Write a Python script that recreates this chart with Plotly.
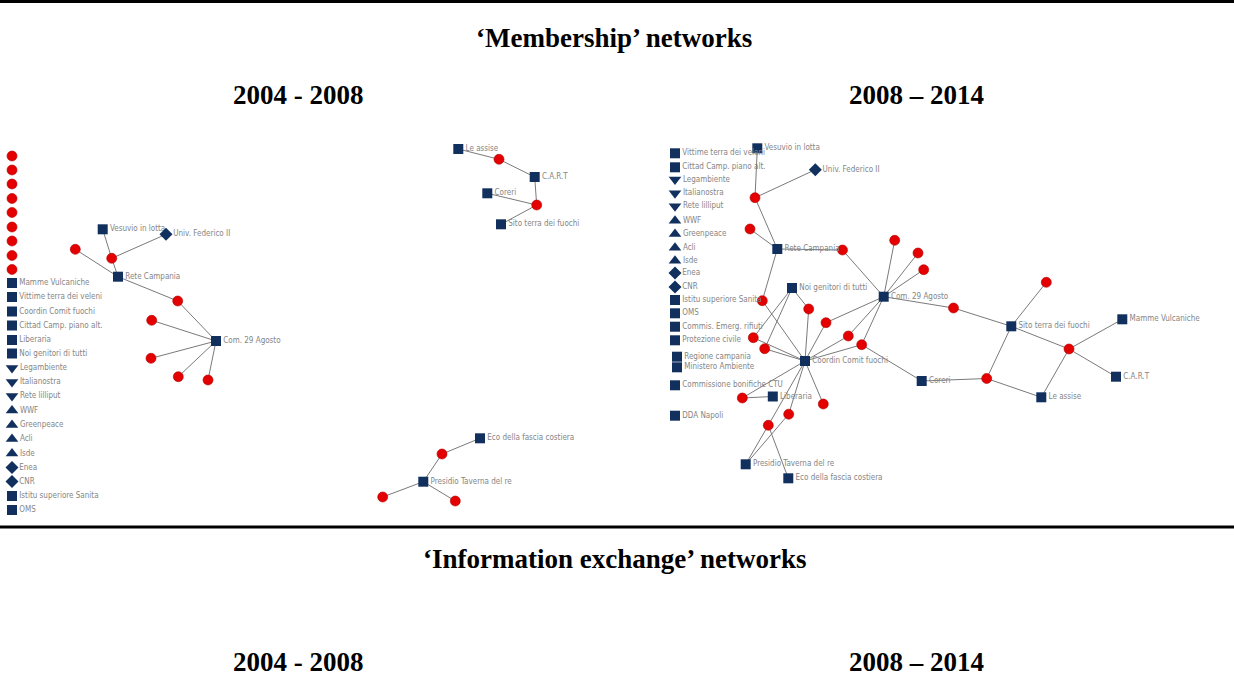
import plotly.graph_objects as go

# ---------------- DATA ----------------
# Panel 1: 'Membership' networks 2004-2008  (node name, x, y, kind)
p1_names = ["i1", "i2", "i3", "i4", "i5", "i6", "i7", "i8", "i9",
            "Mamme Vulcaniche", "Vittime terra dei veleni", "Coordin Comit fuochi",
            "Cittad Camp. piano alt.", "Liberaria", "Noi genitori di tutti",
            "Legambiente", "Italianostra", "Rete lilliput", "WWF", "Greenpeace",
            "Acli", "Isde", "Enea", "CNR", "Istitu superiore Sanita", "OMS",
            "Vesuvio in lotta", "Univ. Federico II", "e1", "e2", "Rete Campania",
            "e3", "e4", "Com. 29 Agosto", "e5", "e6", "e7",
            "Le assise", "e8", "C.A.R.T", "Coreri", "e9", "Sito terra dei fuochi",
            "Eco della fascia costiera", "e10", "Presidio Taverna del re", "e11", "e12"]
p1_x = [12, 12, 12, 12, 12, 12, 12, 12, 12,
        12, 12, 12, 12, 12, 12, 12, 12, 12, 12, 12, 12, 12, 12, 12, 12, 12,
        102.7, 166, 111.7, 75.3, 118, 177.7, 151.7, 216, 151, 178.3, 208,
        458.3, 499, 534.7, 487.3, 536.7, 501,
        480, 442, 423.3, 382.7, 455.3]
p1_y = [156, 170, 184, 198.5, 212.5, 227, 241, 255.5, 269.5,
        283, 297, 311.5, 325.5, 340, 353.5, 368, 382, 396, 410.5, 425, 439, 453.5,
        467.5, 481.5, 496, 510,
        229.3, 234.3, 258.3, 249.3, 276.7, 301, 320.3, 341, 358.3, 376.7, 380,
        149, 159.3, 177, 193.3, 205, 224.3,
        438.3, 454, 481.7, 497, 501]
p1_kind = ["ev"] * 9 + ["sq", "sq", "sq", "sq", "sq", "sq", "td", "td", "td",
                        "tu", "tu", "tu", "tu", "di", "di", "sq", "sq",
                        "sq", "di", "ev", "ev", "sq", "ev", "ev", "sq", "ev", "ev", "ev",
                        "sq", "ev", "sq", "sq", "ev", "sq",
                        "sq", "ev", "sq", "ev", "ev"]
p1_edges = [("Vesuvio in lotta", "e1"), ("e1", "Univ. Federico II"), ("e1", "Rete Campania"),
            ("e2", "Rete Campania"), ("Rete Campania", "e3"), ("e3", "Com. 29 Agosto"),
            ("e4", "Com. 29 Agosto"), ("e5", "Com. 29 Agosto"), ("e6", "Com. 29 Agosto"),
            ("e7", "Com. 29 Agosto"), ("Le assise", "e8"), ("e8", "C.A.R.T"),
            ("C.A.R.T", "e9"), ("Coreri", "e9"), ("e9", "Sito terra dei fuochi"),
            ("Eco della fascia costiera", "e10"), ("e10", "Presidio Taverna del re"),
            ("Presidio Taverna del re", "e11"), ("Presidio Taverna del re", "e12")]

# Panel 2: 'Membership' networks 2008-2014
p2_names = ["Vittime terra dei veleni", "Cittad Camp. piano alt.", "Legambiente",
            "Italianostra", "Rete lilliput", "WWF", "Greenpeace", "Acli", "Isde",
            "Enea", "CNR", "Istitu superiore Sanita", "OMS", "Commis. Emerg. rifiuti",
            "Protezione civile", "Regione campania", "Ministero Ambiente",
            "Commissione bonifiche CTU", "DDA Napoli",
            "Vesuvio in lotta", "Univ. Federico II", "b1", "b2", "Rete Campania",
            "b3", "b4", "b5", "b6", "Com. 29 Agosto", "Noi genitori di tutti",
            "b7", "b8", "b9", "b10", "b11", "b12", "b13", "b14",
            "Coordin Comit fuochi", "Coreri", "b15", "Liberaria", "b16", "b17",
            "b18", "b19", "Presidio Taverna del re", "Eco della fascia costiera",
            "b20", "Sito terra dei fuochi", "Mamme Vulcaniche", "b21", "C.A.R.T", "Le assise"]
p2_x = [675, 675, 675, 675, 675, 675, 675, 675, 675, 675, 675, 675, 675, 675, 675,
        677, 677, 675, 675,
        757.3, 815.3, 755, 750, 777.3, 842.5, 894.7, 918, 923.7, 883.7, 792,
        762.3, 808.7, 826, 953.5, 753.3, 764.7, 848.3, 861.7,
        805, 921.7, 986.7, 772.8, 742.3, 823.3, 788.7, 768.3, 745.7, 788.3,
        1046.3, 1011.3, 1122.3, 1069, 1116, 1041.3]
p2_y = [153.3, 167.3, 179.5, 193.3, 206.3, 220.7, 234, 247.7, 260.7, 273, 287,
        300, 313.3, 326.7, 340.3, 356.7, 367.3, 385.3, 415.7,
        148.3, 169.7, 197.7, 229, 249, 250, 240.3, 253, 269.7, 296.7, 288,
        300.7, 309, 322.7, 308, 337.7, 348.7, 336, 344.7,
        361, 381, 378.5, 396.5, 398, 404, 414.2, 425.3, 464.3, 478.3,
        282.3, 326.3, 319.3, 349, 376.7, 397.3]
p2_kind = ["sq", "sq", "td", "td", "td", "tu", "tu", "tu", "tu", "di", "di",
           "sq", "sq", "sq", "sq", "sq", "sq", "sq", "sq",
           "sq", "di", "ev", "ev", "sq", "ev", "ev", "ev", "ev", "sq", "sq",
           "ev", "ev", "ev", "ev", "ev", "ev", "ev", "ev",
           "sq", "sq", "ev", "sq", "ev", "ev", "ev", "ev", "sq", "sq",
           "ev", "sq", "sq", "ev", "sq", "sq"]
p2_edges = [("Vesuvio in lotta", "b1"), ("b1", "Univ. Federico II"), ("b1", "Rete Campania"),
            ("b2", "Rete Campania"), ("Rete Campania", "b3"), ("b3", "Com. 29 Agosto"),
            ("Rete Campania", "b7"), ("b7", "Coordin Comit fuochi"),
            ("Noi genitori di tutti", "b11"), ("Noi genitori di tutti", "b12"),
            ("Noi genitori di tutti", "b8"), ("b8", "Coordin Comit fuochi"),
            ("b11", "Coordin Comit fuochi"), ("b12", "Coordin Comit fuochi"),
            ("b9", "Coordin Comit fuochi"), ("b9", "Com. 29 Agosto"),
            ("b13", "Com. 29 Agosto"), ("b13", "Coordin Comit fuochi"),
            ("b14", "Com. 29 Agosto"), ("b14", "Coordin Comit fuochi"), ("b14", "Coreri"),
            ("b4", "Com. 29 Agosto"), ("b5", "Com. 29 Agosto"), ("b6", "Com. 29 Agosto"),
            ("Com. 29 Agosto", "b10"), ("b10", "Sito terra dei fuochi"),
            ("Sito terra dei fuochi", "b20"), ("Sito terra dei fuochi", "b15"),
            ("Coreri", "b15"), ("b15", "Le assise"), ("Sito terra dei fuochi", "b21"),
            ("b21", "Mamme Vulcaniche"), ("b21", "C.A.R.T"), ("b21", "Le assise"),
            ("Coordin Comit fuochi", "b16"), ("b16", "Liberaria"),
            ("Coordin Comit fuochi", "b17"), ("Coordin Comit fuochi", "b18"),
            ("Coordin Comit fuochi", "b19"), ("b18", "Presidio Taverna del re"),
            ("b19", "Presidio Taverna del re"), ("b19", "Eco della fascia costiera")]

titles = ["\u2018Membership\u2019 networks", "\u2018Information exchange\u2019 networks"]
periods = ["2004 - 2008", "2008 \u2013 2014"]

# ---------------- STYLE ----------------
NAVY = "#12305e"
RED = "#e40000"
EDGE = "#7a7a7a"
LABEL = "#858585"
SYMBOL = {"sq": "square", "tu": "triangle-up", "td": "triangle-down", "di": "diamond"}
LABEL_FONT = dict(family="Liberation Sans Narrow, DejaVu Sans Condensed, Arial Narrow, sans-serif",
                  size=8, color=LABEL)
TITLE_FONT = dict(family="Liberation Serif, DejaVu Serif, serif", size=27, color="black")

fig = go.Figure()


def add_network(names, xs, ys, kinds, edges):
    pos = {n: (x, y) for n, x, y in zip(names, xs, ys)}
    ex, ey = [], []
    for a, b in edges:
        ex += [pos[a][0], pos[b][0], None]
        ey += [pos[a][1], pos[b][1], None]
    fig.add_trace(go.Scatter(x=ex, y=ey, mode="lines", hoverinfo="skip",
                             line=dict(color=EDGE, width=1), showlegend=False))
    evx = [x for x, k in zip(xs, kinds) if k == "ev"]
    evy = [y for y, k in zip(ys, kinds) if k == "ev"]
    fig.add_trace(go.Scatter(x=evx, y=evy, mode="markers", showlegend=False,
                             marker=dict(symbol="circle", size=10, color=RED,
                                         line=dict(color="#b00000", width=0.6))))
    for k, sym in SYMBOL.items():
        sel = [i for i, kk in enumerate(kinds) if kk == k]
        if not sel:
            continue
        size = 10 if k == "sq" else (11 if k in ("tu", "td") else 10)
        fig.add_trace(go.Scatter(
            x=[xs[i] for i in sel], y=[ys[i] for i in sel],
            text=[names[i] for i in sel], mode="markers+text",
            textposition="middle right", textfont=LABEL_FONT, showlegend=False,
            marker=dict(symbol=sym, size=size, color=NAVY, line=dict(width=0))))


add_network(p1_names, p1_x, p1_y, p1_kind, p1_edges)
add_network(p2_names, p2_x, p2_y, p2_kind, p2_edges)

ann = []
for t, yy in zip(titles, [38, 559]):
    ann.append(dict(x=614, y=yy, text="<b>" + t + "</b>", showarrow=False, font=TITLE_FONT,
                    xref="x", yref="y"))
for yy in [95, 662]:
    ann.append(dict(x=298, y=yy, text="<b>" + periods[0] + "</b>", showarrow=False,
                    font=TITLE_FONT, xref="x", yref="y"))
    ann.append(dict(x=916, y=yy, text="<b>" + periods[1] + "</b>", showarrow=False,
                    font=TITLE_FONT, xref="x", yref="y"))

shapes = [dict(type="line", xref="x", yref="y", x0=0, x1=1234, y0=1.5, y1=1.5,
               line=dict(color="black", width=3)),
          dict(type="line", xref="x", yref="y", x0=0, x1=1234, y0=527, y1=527,
               line=dict(color="black", width=3))]

fig.update_layout(
    width=1234, height=681, margin=dict(l=0, r=0, t=0, b=0),
    plot_bgcolor="white", paper_bgcolor="white",
    xaxis=dict(range=[0, 1234], visible=False, fixedrange=True),
    yaxis=dict(range=[681, 0], visible=False, fixedrange=True),
    annotations=ann, shapes=shapes, showlegend=False,
)

fig.write_html("out.html", config={"displayModeBar": False},
               post_script="document.body.style.margin='0';")
